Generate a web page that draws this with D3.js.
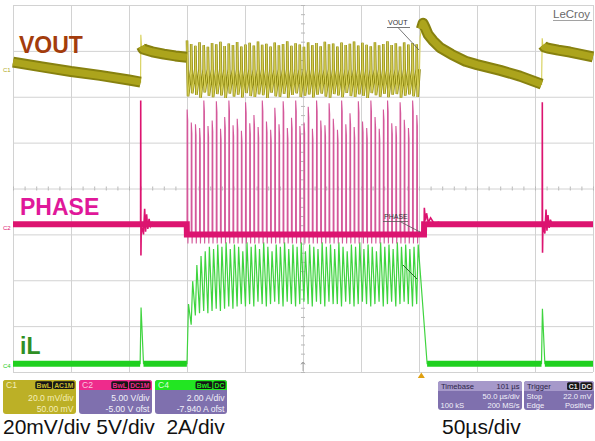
<!DOCTYPE html>
<html>
<head>
<meta charset="utf-8">
<script src="https://cdn.jsdelivr.net/npm/d3@7"></script>
<style>
  html, body { margin: 0; padding: 0; background: #fff; }
  svg { display: block; font-family: "Liberation Sans", Arial, sans-serif; }
</style>
</head>
<body>
<svg id="chart" width="595" height="441"></svg>
<script>
// Scope capture: VOUT (C1, 20mV/div), PHASE (C2, 5V/div), iL (C4, 2A/div), 50us/div

const timeDomain = [0, 500];          // us, 10 div x 50 us
const timeTicks = [0, 50, 100, 150, 200, 250, 300, 350, 400, 450, 500];
const divTicks = [-4, -3, -2, -1, 0, 1, 2, 3, 4];

// switching pulses inside the burst (us)
const pulseTimes = [
  150.0, 153.6, 157.2, 160.8, 164.4, 168.0, 171.6, 175.2,
  178.8, 182.4, 186.0, 189.6, 193.2, 196.8, 200.4, 204.0,
  207.6, 211.2, 214.8, 218.4, 222.0, 225.6, 229.2, 232.8,
  236.4, 240.0, 243.6, 247.2, 250.8, 254.4, 258.0, 261.6,
  265.2, 268.8, 272.4, 276.0, 279.6, 283.2, 286.8, 290.4,
  294.0, 297.6, 301.2, 304.8, 308.4, 312.0, 315.6, 319.2,
  322.8, 326.4, 330.0, 333.6, 337.2, 340.8, 344.4, 348.0
];
// PHASE peak of each pulse (V)
const phasePeak = [
  13.6, 12.2, 12.0, 11.6, 14.6, 11.8, 12.4, 14.5,
  11.5, 12.8, 14.6, 11.9, 12.6, 11.3, 14.4, 12.1,
  13.0, 11.7, 14.6, 12.3, 11.4, 13.8, 12.0, 14.5,
  11.6, 12.7, 14.6, 11.8, 12.2, 13.9, 11.5, 14.6,
  12.4, 11.9, 14.3, 12.6, 11.4, 14.6, 12.0, 13.2,
  11.7, 14.5, 12.3, 11.6, 14.6, 12.8, 11.5, 13.6,
  14.6, 12.1, 11.8, 14.4, 12.5, 11.6, 14.6, 13.0
];
// VOUT ripple per pulse (mV on screen)
const voutHi = [
  64.5, 63.0, 62.2, 63.8, 62.5, 61.8, 63.4, 62.9,
  64.0, 62.1, 63.2, 62.6, 63.9, 61.9, 62.8, 63.5,
  62.3, 64.1, 62.7, 63.1, 61.9, 63.6, 62.4, 63.0,
  64.2, 62.2, 63.3, 62.8, 61.8, 63.7, 62.5, 63.4,
  62.0, 64.0, 62.9, 63.2, 61.9, 63.6, 62.6, 63.1,
  64.1, 62.3, 63.5, 62.7, 62.0, 63.8, 62.4, 63.0,
  64.2, 62.6, 63.3, 61.9, 63.7, 62.8, 63.4, 62.9
];
const voutLo = [
  40.2, 41.5, 40.8, 39.6, 41.9, 40.4, 39.8, 41.2,
  40.6, 39.5, 41.4, 40.1, 40.9, 39.7, 41.6, 40.3,
  39.9, 41.1, 40.7, 39.5, 41.8, 40.2, 40.0, 41.3,
  39.6, 40.8, 41.5, 39.9, 40.5, 41.0, 39.7, 40.9,
  41.4, 40.1, 39.6, 41.2, 40.6, 39.8, 41.7, 40.3,
  39.9, 41.1, 40.4, 39.5, 41.6, 40.7, 40.0, 41.3,
  39.8, 40.9, 41.2, 39.6, 40.5, 41.0, 40.2, 39.9
];
const voutBurstMid = 52.0;
// inductor current per pulse (A)
const ilHi = [
  2.9, 3.9, 4.6, 5.0, 5.2, 5.4, 5.3, 5.5,
  5.4, 5.6, 5.3, 5.5, 5.4, 5.2, 5.6, 5.4,
  5.5, 5.3, 5.6, 5.4, 5.2, 5.5, 5.4, 5.6,
  5.3, 5.5, 5.4, 5.6, 5.2, 5.5, 5.4, 5.3,
  5.6, 5.4, 5.5, 5.3, 5.6, 5.4, 5.2, 5.5,
  5.4, 5.6, 5.3, 5.5, 5.4, 5.2, 5.6, 5.4,
  5.5, 5.3, 5.6, 5.4, 5.5, 5.3, 5.4, 5.5
];
const ilLo = [
  0.3, 2.0, 2.4, 2.5, 2.6, 2.5, 2.6, 2.7,
  2.6, 2.7, 2.8, 2.7, 2.8, 2.9, 2.8, 2.9,
  2.8, 3.0, 2.9, 2.8, 2.9, 3.0, 2.9, 2.8,
  3.0, 2.9, 2.8, 2.9, 3.0, 2.9, 2.8, 3.0,
  2.9, 2.8, 3.0, 2.9, 2.9, 2.8, 3.0, 2.9,
  2.8, 2.9, 3.0, 2.9, 2.8, 2.9, 3.0, 2.8,
  2.9, 3.0, 2.8, 2.9, 3.0, 2.9, 2.8, 2.9
];
const ilOnTime = 1.3;

// VOUT smooth sections [us, mV]
const voutA = [[0, 55.1], [25, 53.0], [50, 51.0], [75, 49.3], [100, 47.3], [110, 46.4]];
const voutB = [[110.8, 62.0], [112, 60.8], [120, 59.6], [130, 58.6], [140, 57.8], [149.8, 57.2]];
const voutC = [[352, 69.5], [353.5, 72.0], [355, 70.5], [358, 67.0], [362, 64.5], [368, 61.5],
               [378, 58.5], [390, 55.5], [400, 54.0], [420, 51.5], [437, 49.0], [455.7, 45.5]];
const voutD = [[456.8, 62.5], [458, 61.7], [461, 61.2], [470, 60.3], [480, 59.5], [500, 57.4]];

// PHASE idle level and ringing [us, V]
const phaseIdle = 1.1;
const phaseRing1 = [[110.0, 1.1], [110.1, 14.6], [110.3, -2.3], [110.6, 1.1], [112.5, 0.0], [113.5, 2.8],
                    [114.3, 0.3], [115.2, 2.2], [116.2, 0.6], [117.3, 1.7], [118.5, 0.9], [120, 1.3], [122, 1.1]];
const phaseRing2 = [[354.3, 0.0], [354.6, 2.9], [355.5, 1.5], [356.5, 2.3], [358, 1.3], [360, 1.8],
                    [363, 1.2], [367, 1.3], [370, 1.1]];
const phaseRing3 = [[456.2, 1.1], [456.3, 14.4], [456.5, -2.0], [456.8, 1.1], [458.5, 0.1], [459.5, 2.7],
                    [460.3, 0.4], [461.2, 2.1], [462.2, 0.7], [463.3, 1.6], [465, 1.0], [467, 1.2], [469, 1.1]];

// iL idle level and single pulses [us, A]
const ilIdle = 0.3;
const ilPulse1 = [[109.6, 0.3], [110.4, 2.75], [112.5, 0.3]];
const ilPulse2 = [[455.6, 0.3], [456.4, 2.7], [458.5, 0.3]];
const ilEndTime = 357;

const plot = { left: 13, right: 593, top: 5, bottom: 372 };

const x = d3.scaleLinear().domain(timeDomain).range([plot.left, plot.right]);
const yDiv = d3.scaleLinear().domain([-4, 4]).range([plot.bottom, plot.top]);
const yVout = d3.scaleLinear().domain([-80, 80]).range([plot.bottom, plot.top]);
const yPhase = d3.scaleLinear().domain([-15, 25]).range([plot.bottom, plot.top]);
const yIL = d3.scaleLinear().domain([-0.06, 15.94]).range([plot.bottom, plot.top]);

const svg = d3.select('#chart');
svg.append('rect').attr('width', 595).attr('height', 441).attr('fill', '#fff');

// Grid
const gridColor = '#d2d2d2';
svg.append('g')
  .attr('transform', `translate(0,${plot.bottom})`)
  .call(d3.axisBottom(x).tickValues(timeTicks).tickSize(-(plot.bottom - plot.top)).tickFormat(''))
  .call(g => g.select('.domain').remove())
  .call(g => g.selectAll('line').attr('stroke', gridColor));
svg.append('g')
  .attr('transform', `translate(${plot.left},0)`)
  .call(d3.axisLeft(yDiv).tickValues(divTicks).tickSize(-(plot.right - plot.left)).tickFormat(''))
  .call(g => g.select('.domain').remove())
  .call(g => g.selectAll('line').attr('stroke', gridColor));

// minor ticks on the centre lines
const minorT = d3.range(0, 501, 10);
const minorD = d3.range(-4, 4.01, 0.2);
[d3.axisTop, d3.axisBottom].forEach(ax => {
  svg.append('g')
    .attr('transform', `translate(0,${yDiv(0)})`)
    .call(ax(x).tickValues(minorT).tickSize(2).tickFormat(''))
    .call(g => g.select('.domain').remove())
    .call(g => g.selectAll('line').attr('stroke', '#b8b8b8'));
});
[d3.axisLeft, d3.axisRight].forEach(ax => {
  svg.append('g')
    .attr('transform', `translate(${x(250)},0)`)
    .call(ax(yDiv).tickValues(minorD).tickSize(2).tickFormat(''))
    .call(g => g.select('.domain').remove())
    .call(g => g.selectAll('line').attr('stroke', '#b8b8b8'));
});

// ---------- iL (C4) ----------
const ilLine = d3.line().x(d => x(d[0])).y(d => yIL(d[1]));
const ilBurst = [];
pulseTimes.forEach((t, i) => {
  ilBurst.push([t, ilLo[i]], [t + ilOnTime, ilHi[i]]);
});
ilBurst.push([ilEndTime, ilIdle]);
const ilAll = [[0, ilIdle], ...ilPulse1, [pulseTimes[0] - 0.1, ilIdle], ...ilBurst, ...ilPulse2, [500, ilIdle]];

svg.append('path').attr('d', ilLine(ilAll))
  .attr('fill', 'none').attr('stroke', '#3fd43f').attr('stroke-width', 1.2);
[[[0, ilIdle], ilPulse1[0]], [ilPulse1[2], [pulseTimes[0] - 0.1, ilIdle]],
 [[ilEndTime, ilIdle], ilPulse2[0]], [ilPulse2[2], [500, ilIdle]]].forEach(seg => {
  svg.append('path').attr('d', ilLine(seg))
    .attr('fill', 'none').attr('stroke', '#1fd01f').attr('stroke-width', 6);
});
// iL label pointer
svg.append('line').attr('x1', 403).attr('y1', 265).attr('x2', 417).attr('y2', 279)
  .attr('stroke', '#1f6a1f').attr('stroke-width', 1);

// ---------- PHASE (C2) ----------
const phLine = d3.line().x(d => x(d[0])).y(d => yPhase(d[1]));
const phSpikes = [];
pulseTimes.forEach((t, i) => {
  phSpikes.push([t, 0], [t + 0.1, phasePeak[i]], [t + 0.6, phasePeak[i] - 1.2], [t + 0.7, 0], [t + 0.8, -1.0], [t + 1.0, 0]);
});
svg.append('path').attr('d', phLine(phSpikes))
  .attr('fill', 'none').attr('stroke', '#d4589a').attr('stroke-width', 1.1);

const phBase = [[0, phaseIdle], [pulseTimes[0] - 0.2, phaseIdle], [pulseTimes[0] - 0.1, 0], [354.3, 0], [354.4, phaseIdle], [500, phaseIdle]];
svg.append('path').attr('d', phLine(phBase))
  .attr('fill', 'none').attr('stroke', '#dc1470').attr('stroke-width', 6);
[phaseRing1, phaseRing2, phaseRing3].forEach(r => {
  svg.append('path').attr('d', phLine(r))
    .attr('fill', 'none').attr('stroke', '#dc1470').attr('stroke-width', 1.6);
});

// ---------- VOUT (C1) ----------
const vLine = d3.line().x(d => x(d[0])).y(d => yVout(d[1]));
const voutBurst = [];
pulseTimes.forEach((t, i) => {
  const next = i < pulseTimes.length - 1 ? pulseTimes[i + 1] : 350.5;
  voutBurst.push([t, voutHi[i]], [t + 0.9, voutLo[i]], [next - 0.05, voutBurstMid]);
});
const voutAll = [...voutA, [110.2, 67.0], ...voutB, ...voutBurst, [351, 66.0], ...voutC, [456.2, 65.5], ...voutD];

svg.append('path').attr('d', vLine(voutBurst))
  .attr('fill', 'none').attr('stroke', '#8f8912').attr('stroke-width', 2.6);
svg.append('path').attr('d', vLine(voutAll))
  .attr('fill', 'none').attr('stroke', '#d6cf55').attr('stroke-width', 1.1);
[voutA, voutB, voutC, voutD].forEach(seg => {
  svg.append('path').attr('d', vLine(seg))
    .attr('fill', 'none').attr('stroke', '#87810f').attr('stroke-width', 11)
    .attr('stroke-linejoin', 'round');
  svg.append('path').attr('d', vLine(seg))
    .attr('fill', 'none').attr('stroke', '#aca41c').attr('stroke-width', 7)
    .attr('stroke-linejoin', 'round');
});

// ---------- labels ----------
svg.append('text').attr('x', 19).attr('y', 53).text('VOUT')
  .attr('font-size', 23).attr('font-weight', 'bold').attr('fill', '#a33c0c');
svg.append('text').attr('x', 20).attr('y', 215).text('PHASE')
  .attr('font-size', 23).attr('font-weight', 'bold').attr('fill', '#e0189a');
svg.append('text').attr('x', 20).attr('y', 354).text('iL')
  .attr('font-size', 23).attr('font-weight', 'bold').attr('fill', '#2f8f24');

// channel markers
[['C1', 72, '#b0a820'], ['C2', 230, '#dc1470'], ['C4', 368, '#22cc22']].forEach(([t, yy, c]) => {
  svg.append('text').attr('x', 3).attr('y', yy).text(t)
    .attr('font-size', 6).attr('fill', c);
});

// trace annotations
svg.append('text').attr('x', 388).attr('y', 25).text('VOUT').attr('font-size', 7).attr('fill', '#333');
svg.append('line').attr('x1', 387).attr('y1', 27.5).attr('x2', 410).attr('y2', 27.5).attr('stroke', '#555').attr('stroke-width', 0.8);
svg.append('line').attr('x1', 398).attr('y1', 27.5).attr('x2', 419).attr('y2', 50).attr('stroke', '#555').attr('stroke-width', 0.8);
svg.append('text').attr('x', 384).attr('y', 219).text('PHASE').attr('font-size', 7).attr('fill', '#333');
svg.append('line').attr('x1', 383).attr('y1', 221.5).attr('x2', 408).attr('y2', 221.5).attr('stroke', '#555').attr('stroke-width', 0.8);
svg.append('line').attr('x1', 400).attr('y1', 221.5).attr('x2', 420).attr('y2', 232).attr('stroke', '#555').attr('stroke-width', 0.8);

// LeCroy logo
svg.append('text').attr('x', 553).attr('y', 18).text('LeCroy')
  .attr('font-size', 11.5).attr('fill', '#6a6a6a');
svg.append('line').attr('x1', 553).attr('y1', 20.5).attr('x2', 592).attr('y2', 20.5)
  .attr('stroke', '#8a8a8a').attr('stroke-width', 0.8);

// trigger position and centre marker
svg.append('path').attr('d', `M${x(352) - 3.5},378 L${x(352) + 3.5},378 L${x(352)},372.5 Z`).attr('fill', '#e0a010');
svg.append('path').attr('d', `M${x(250)},362 L${x(250)},371`).attr('stroke', '#999').attr('stroke-width', 0.8);
svg.append('path').attr('d', `M${x(250) - 2},364.5 L${x(250)},362 L${x(250) + 2},364.5`).attr('stroke', '#999').attr('fill', 'none').attr('stroke-width', 0.8);

// ---------- info panels ----------
const panels = [
  { x: 3, y: 380, w: 73, h: 34, fs: 8.6, head: '#bcb026', body: '#bcb026', title: 'C1', titleColor: '#f4eeb8',
    badges: ['BwL', 'AC1M'], badgeText: '#c9bd30', textColor: '#f4eeb8',
    rows: [['', '20.0 mV/div'], ['', '50.00 mV']] },
  { x: 79, y: 380, w: 73, h: 34, fs: 8.6, head: '#ee2b8c', body: '#7f70ae', title: 'C2', titleColor: '#f9c6df',
    badges: ['BwL', 'DC1M'], badgeText: '#ee2b8c', textColor: '#f2f0fa',
    rows: [['', '5.00 V/div'], ['', '-5.00 V ofst']] },
  { x: 155, y: 380, w: 72, h: 34, fs: 8.6, head: '#22e622', body: '#7f70ae', title: 'C4', titleColor: '#d9ffd9',
    badges: ['BwL', 'DC'], badgeText: '#22e622', textColor: '#f2f0fa',
    rows: [['', '2.00 A/div'], ['', '-7.940 A ofst']] },
  { x: 438, y: 381, w: 84, h: 29, fs: 7.6, head: '#a699ca', body: '#7f70ae', title: 'Timebase', titleColor: '#2c2448',
    right: '101 µs', badges: [], textColor: '#f2f0fa',
    rows: [['', '50.0 µs/div'], ['100 kS', '200 MS/s']] },
  { x: 524, y: 381, w: 70, h: 29, fs: 7.6, head: '#a699ca', body: '#7f70ae', title: 'Trigger', titleColor: '#2c2448',
    badges: ['C1', 'DC'], badgeText: '#e8e8e8', textColor: '#f2f0fa',
    rows: [['Stop', '22.0 mV'], ['Edge', 'Positive']] }
];

panels.forEach(p => {
  const g = svg.append('g').attr('transform', `translate(${p.x},${p.y})`).attr('font-size', p.fs);
  g.append('rect').attr('width', p.w).attr('height', p.h).attr('rx', 3).attr('fill', p.body);
  g.append('path')
    .attr('d', `M0,10 L0,3 Q0,0 3,0 L${p.w - 3},0 Q${p.w},0 ${p.w},3 L${p.w},10 Z`)
    .attr('fill', p.head);
  g.append('text').attr('x', 3).attr('y', 8.2).text(p.title).attr('fill', p.titleColor);
  if (p.right) {
    g.append('text').attr('x', p.w - 2.5).attr('y', 8.2).attr('text-anchor', 'end').text(p.right).attr('fill', p.titleColor);
  }
  let bx = p.w - 1.5;
  p.badges.slice().reverse().forEach(b => {
    const bw = b.length * 4.6 + 3;
    bx -= bw;
    g.append('rect').attr('x', bx).attr('y', 1.3).attr('width', bw).attr('height', 7.6).attr('rx', 1.5).attr('fill', '#161616');
    g.append('text').attr('x', bx + bw / 2).attr('y', 7.6).attr('text-anchor', 'middle')
      .attr('font-size', 6.8).attr('font-weight', 'bold').text(b).attr('fill', p.badgeText);
    bx -= 1;
  });
  const rowY = p.h > 30 ? [21, 31.5] : [18.2, 27];
  p.rows.forEach((r, i) => {
    if (r[0]) g.append('text').attr('x', 2.5).attr('y', rowY[i]).text(r[0]).attr('fill', p.textColor);
    g.append('text').attr('x', p.w - 2.5).attr('y', rowY[i]).attr('text-anchor', 'end').text(r[1]).attr('fill', p.textColor);
  });
});

// scale captions
svg.append('text').attr('x', 3).attr('y', 434).attr('font-size', 21).attr('fill', '#111')
  .style('white-space', 'pre').text('20mV/div 5V/div  2A/div');
svg.append('text').attr('x', 442).attr('y', 434).attr('font-size', 21).attr('fill', '#111')
  .text('50µs/div');
</script>
</body>
</html>
